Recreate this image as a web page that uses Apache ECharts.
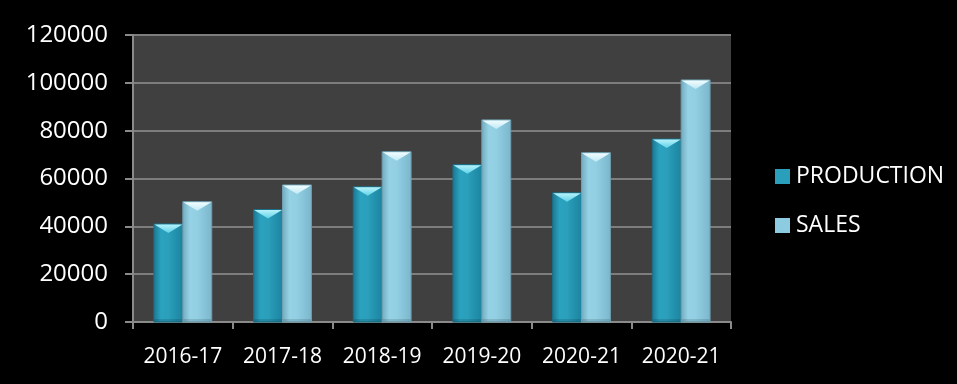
<!DOCTYPE html>
<html>
<head>
<meta charset="utf-8">
<script src="https://cdn.jsdelivr.net/npm/echarts@6/dist/echarts.min.js"></script>
<style>
  html, body { margin: 0; padding: 0; background: #000; }
  #chart { width: 957px; height: 384px; }
</style>
</head>
<body>
<div id="chart"></div>
<script>
// Yearly production and sales figures
const categories = ['2016-17', '2017-18', '2018-19', '2019-20', '2020-21', '2020-21'];
const production = [41000, 47000, 56500, 65800, 54000, 76500];
const sales = [50300, 57300, 71200, 84500, 70800, 101200];
const yTicks = [0, 20000, 40000, 60000, 80000, 100000, 120000];

// Palettes for the bevelled bars
const palettes = {
  PRODUCTION: {
    body: ['#1b7590', '#2aa2bf', '#2b9fbb', '#2291ad', '#1d849f'],
    tip: ['#b6f2fb', '#5fd2e8'],
    edge: '#1a6f86',
    legend: '#2a9fbb'
  },
  SALES: {
    body: ['#6fa9bd', '#96d2e5', '#92cfe3', '#86c3d8', '#7cb5ca'],
    tip: ['#f2fdff', '#bfe9f5'],
    edge: '#6f9fb0',
    legend: '#8ccbe0'
  }
};

function bevelBar(name, side) {
  const pal = palettes[name];
  return function (params, api) {
    const idx = api.value(0);
    const val = api.value(1);
    const top = api.coord([idx, val]);
    const base = api.coord([idx, 0]);
    const band = api.size([1, 0])[0];
    const w = band * 0.29;
    const x = side === 0 ? top[0] - w : top[0];
    const y = top[1];
    const h = base[1] - y;
    const tipH = Math.min(9, h);
    const stops = pal.body.map((c, i) => ({ offset: i / (pal.body.length - 1), color: c }));
    return {
      type: 'group',
      children: [
        {
          type: 'rect',
          shape: { x: x, y: y, width: w, height: h },
          style: {
            fill: new echarts.graphic.LinearGradient(0, 0, 1, 0, stops),
            stroke: pal.edge,
            lineWidth: 1
          }
        },
        {
          type: 'polygon',
          shape: { points: [[x + 0.5, y + 0.5], [x + w - 0.5, y + 0.5], [x + w / 2, y + tipH]] },
          style: {
            fill: new echarts.graphic.LinearGradient(0, 0, 0, 1, [
              { offset: 0, color: pal.tip[0] },
              { offset: 1, color: pal.tip[1] }
            ])
          }
        },
        {
          type: 'rect',
          shape: { x: x + 0.5, y: base[1] - 3, width: w - 1, height: 3 },
          style: { fill: 'rgba(0,0,0,0.12)' }
        }
      ]
    };
  };
}

const chart = echarts.init(document.getElementById('chart'), null, { renderer: 'canvas' });

chart.setOption({
  backgroundColor: '#000000',
  animation: false,
  grid: {
    left: 133, right: 226, top: 35, bottom: 62,
    show: true, backgroundColor: '#404040', borderWidth: 0
  },
  legend: {
    orient: 'vertical',
    left: 770,
    top: 158,
    itemWidth: 15,
    itemHeight: 15,
    itemGap: 22,
    icon: 'rect',
    data: ['PRODUCTION', 'SALES'],
    textStyle: {
      color: '#ffffff',
      fontFamily: 'Open Sans, sans-serif',
      fontSize: 23,
      lineHeight: 27,
      padding: [0, 0, 0, 1]
    }
  },
  xAxis: {
    type: 'category',
    data: categories,
    boundaryGap: true,
    axisLine: { show: true, lineStyle: { color: '#8a8a8a', width: 2 } },
    axisTick: { show: true, length: 7, interval: 0, lineStyle: { color: '#8a8a8a', width: 2 } },
    axisLabel: {
      color: '#ffffff',
      interval: 0,
      margin: 25,
      fontFamily: 'Open Sans, sans-serif',
      fontSize: 21
    },
    splitLine: { show: false }
  },
  yAxis: {
    type: 'value',
    min: yTicks[0],
    max: yTicks[yTicks.length - 1],
    interval: yTicks[1] - yTicks[0],
    axisLine: { show: true, lineStyle: { color: '#8a8a8a', width: 2 } },
    axisTick: { show: true, length: 8, lineStyle: { color: '#8a8a8a', width: 2 } },
    axisLabel: {
      color: '#ffffff',
      margin: 25,
      fontFamily: 'Open Sans, sans-serif',
      fontSize: 24,
      formatter: (v) => String(v)
    },
    splitLine: { show: true, lineStyle: { color: '#7d7d7d', width: 2 } }
  },
  series: [
    {
      name: 'PRODUCTION',
      type: 'custom',
      renderItem: bevelBar('PRODUCTION', 0),
      encode: { x: 0, y: 1 },
      itemStyle: { color: palettes.PRODUCTION.legend },
      data: production.map((v, i) => [i, v]),
      z: 3
    },
    {
      name: 'SALES',
      type: 'custom',
      renderItem: bevelBar('SALES', 1),
      encode: { x: 0, y: 1 },
      itemStyle: { color: palettes.SALES.legend },
      data: sales.map((v, i) => [i, v]),
      z: 3
    }
  ]
});
</script>
</body>
</html>
